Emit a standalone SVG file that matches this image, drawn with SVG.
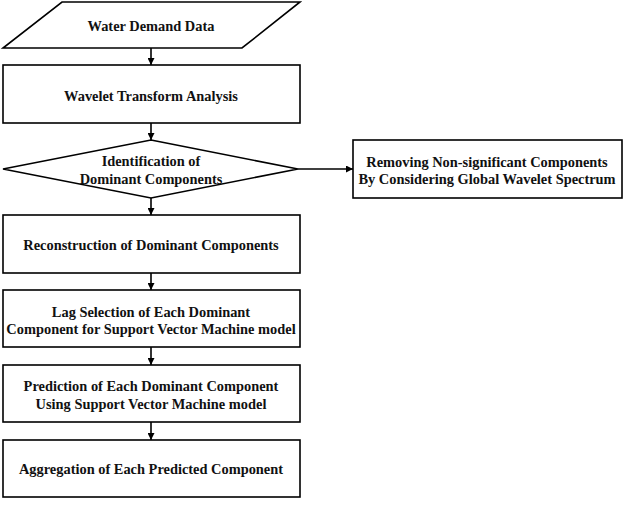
<svg xmlns="http://www.w3.org/2000/svg" width="625" height="508" viewBox="0 0 625 508">
<defs>
<marker id="ah" viewBox="0 0 10 10" refX="10" refY="5" markerWidth="7" markerHeight="7" markerUnits="userSpaceOnUse" orient="auto">
<path d="M0,0 L10,5 L0,10 z" fill="#000"/>
</marker>
<style>
.s{fill:#fff;stroke:#000;stroke-width:1.6}
.t{font-family:"Liberation Serif","Times New Roman",serif;font-weight:bold;font-size:14.4px;fill:#111;text-anchor:middle}
.c{stroke:#000;stroke-width:1.6;fill:none;marker-end:url(#ah)}
</style>
</defs>
<rect width="625" height="508" fill="#fff"/>
<g id="connectors">
<line class="c" x1="151" y1="48" x2="151" y2="65"/>
<line class="c" x1="151" y1="123" x2="151" y2="140"/>
<line class="c" x1="151" y1="198" x2="151" y2="215"/>
<line class="c" x1="151" y1="273" x2="151" y2="290"/>
<line class="c" x1="151" y1="347" x2="151" y2="365"/>
<line class="c" x1="151" y1="422" x2="151" y2="440"/>
<line class="c" x1="298" y1="169" x2="353" y2="169"/>
</g>
<g id="n1">
<polygon class="s" points="62,2 300,2 242,48 3,48"/>
<text class="t" x="151" y="31">Water Demand Data</text>
</g>
<g id="n2">
<rect class="s" x="3" y="65" width="297" height="58"/>
<text class="t" x="151" y="101">Wavelet Transform Analysis</text>
</g>
<g id="n3">
<polygon class="s" points="151,140 298,169 151,198 3,169"/>
<text class="t" x="151" y="166">Identification of</text>
<text class="t" x="151" y="184">Dominant Components</text>
</g>
<g id="n4">
<rect class="s" x="353" y="140" width="269" height="58"/>
<text class="t" x="487" y="167">Removing Non-significant Components</text>
<text class="t" x="487" y="184">By Considering Global Wavelet Spectrum</text>
</g>
<g id="n5">
<rect class="s" x="3" y="215" width="297" height="58"/>
<text class="t" x="151" y="250">Reconstruction of Dominant Components</text>
</g>
<g id="n6">
<rect class="s" x="3" y="290" width="297" height="57"/>
<text class="t" x="151" y="317">Lag Selection of Each Dominant</text>
<text class="t" x="151" y="334">Component for Support Vector Machine model</text>
</g>
<g id="n7">
<rect class="s" x="3" y="365" width="297" height="57"/>
<text class="t" x="151" y="391">Prediction of Each Dominant Component</text>
<text class="t" x="151" y="409">Using Support Vector Machine model</text>
</g>
<g id="n8">
<rect class="s" x="3" y="440" width="297" height="57"/>
<text class="t" x="151" y="474">Aggregation of Each Predicted Component</text>
</g>
</svg>
